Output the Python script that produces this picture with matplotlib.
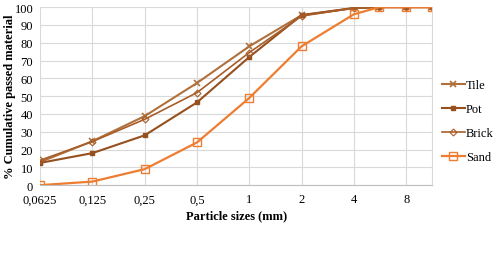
import matplotlib.pyplot as plt

plt.rcParams['font.family'] = ['Liberation Serif', 'DejaVu Serif']

# Siebgrößen (mm) und Durchgang (%)
sizes = [0.0625, 0.125, 0.25, 0.5, 1, 2, 4, 5.6, 8, 11.2]
tile = [13, 24.7, 38.8, 57.4, 78, 95.5, 99.5, 100, 100, 100]
pot = [12.5, 18, 28, 46.5, 72, 95.5, 99.5, 100, 100, 100]
brick = [14, 24.5, 37, 52, 74.5, 95, 99.5, 100, 100, 100]
sand = [0, 2, 9, 24, 49, 78, 96, 100, 100, 100]

tick_vals = [0.0625, 0.125, 0.25, 0.5, 1, 2, 4, 8]
tick_labels = ["0,0625", "0,125", "0,25", "0,5", "1", "2", "4", "8"]

fig = plt.figure(figsize=(5.02, 2.55), dpi=100)
ax = fig.add_axes([0.08, 0.27, 0.781, 0.698])

ax.plot(sizes, tile, color='#b0703c', marker='x', ms=4, mew=1.2, lw=1.5, label='Tile')
ax.plot(sizes, pot, color='#96501e', marker='s', ms=3, lw=1.5, label='Pot')
ax.plot(sizes, brick, color='#a85e2a', marker='D', ms=3.5, mfc='none', mew=0.8, lw=1.2, label='Brick')
ax.plot(sizes, sand, color='#ed7d31', marker='s', ms=6, mfc='none', mew=1, lw=1.6, label='Sand')

ax.set_xscale('log', base=2)
ax.set_xlim(0.0625, 11.3)
ax.set_ylim(0, 100)
ax.set_xticks(tick_vals)
ax.set_xticklabels(tick_labels)
ax.minorticks_off()
ax.set_yticks(range(0, 101, 10))

ax.grid(True, color='#d9d9d9', lw=0.8)
ax.set_axisbelow(True)
for s in ['top', 'left']:
    ax.spines[s].set_visible(False)
ax.spines['right'].set_color('#d9d9d9')
ax.spines['bottom'].set_color('#bfbfbf')
ax.tick_params(axis='y', length=0, labelsize=9, pad=5)
ax.tick_params(axis='x', length=0, labelsize=9, pad=6)

ax.set_xlabel("Particle sizes (mm)", fontweight='bold', fontsize=9, labelpad=3)
ax.set_ylabel("% Cumulative passed material", fontweight='bold', fontsize=9)
ax.yaxis.set_label_coords(-0.062, 0.5)

ax.legend(loc='center left', bbox_to_anchor=(1.0, 0.36), frameon=False, fontsize=9,
          handlelength=1.8, labelspacing=0.95, handletextpad=0.1, borderaxespad=0.4)

fig.savefig('out.png', dpi=100)
